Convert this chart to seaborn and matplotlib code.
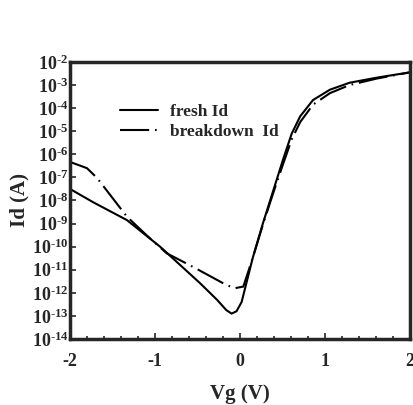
import numpy as np
import pandas as pd
import seaborn as sns
import matplotlib.pyplot as plt
from matplotlib.ticker import MultipleLocator

# Gate voltage (V) and log10(Id)
vg_fresh = [-2.0, -1.73, -1.33, -0.94, -0.47, -0.27, -0.16, -0.098, -0.04, 0.02,
            0.15, 0.27, 0.39, 0.51, 0.61, 0.71, 0.86, 1.06, 1.29, 1.61, 2.0]
logid_fresh = [-7.5, -8.07, -8.85, -10.0, -11.58, -12.3, -12.75, -12.9, -12.8, -12.4,
               -10.5, -9.0, -7.6, -6.2, -5.1, -4.35, -3.65, -3.2, -2.9, -2.68, -2.45]

vg_bd = [-2.0, -1.8, -1.68, -1.59, -1.33, -1.1, -0.86, -0.55, -0.16, -0.06, 0.04,
         0.15, 0.27, 0.39, 0.51, 0.61, 0.71, 0.86, 1.06, 1.29, 1.61, 2.0]
logid_bd = [-6.33, -6.6, -7.03, -7.46, -8.7, -9.5, -10.29, -10.88, -11.66, -11.8, -11.73,
            -10.5, -9.05, -7.7, -6.4, -5.35, -4.6, -3.85, -3.35, -3.0, -2.72, -2.45]

labels = ['fresh Id', 'breakdown  Id']
yexp = list(range(-14, -1))

df = pd.concat([
    pd.DataFrame({'Vg': vg_fresh, 'Id': 10.0 ** np.array(logid_fresh), 'curve': labels[0]}),
    pd.DataFrame({'Vg': vg_bd, 'Id': 10.0 ** np.array(logid_bd), 'curve': labels[1]}),
])

sns.set_theme(style='ticks')
plt.rcParams['font.family'] = ['Liberation Serif', 'DejaVu Serif']
plt.rcParams['font.weight'] = 'bold'
plt.rcParams['axes.unicode_minus'] = False
plt.rcParams['mathtext.fontset'] = 'custom'
plt.rcParams['mathtext.rm'] = 'Liberation Serif:bold'
plt.rcParams['mathtext.default'] = 'rm'

fig = plt.figure(figsize=(4.14, 4.05), dpi=100)
ax = fig.add_axes([0.169, 0.163, 0.821, 0.684])

sns.lineplot(data=df, x='Vg', y='Id', hue='curve', style='curve', sort=False,
             palette={labels[0]: 'black', labels[1]: 'black'},
             dashes={labels[0]: '', labels[1]: (14, 2.8, 0.8, 2.8)},
             linewidth=1.5, ax=ax)

ax.set_yscale('log')
ax.set_xlim(-2, 2)
ax.set_ylim(1e-14, 1e-2)
ax.set_yticks([10.0 ** k for k in yexp])
ax.set_yticklabels([f'10$^{{\\text{{{k}}}}}$' for k in yexp])
ax.yaxis.set_minor_locator(plt.NullLocator())
ax.set_xticks([-2, -1, 0, 1, 2])
ax.set_xticklabels(['-2', '-1', '0', '1', '2'])
ax.xaxis.set_minor_locator(MultipleLocator(0.2))
ax.tick_params(which='both', direction='in', top=False, right=False, width=1.2)
ax.tick_params(axis='x', labelsize=13, pad=10)
ax.tick_params(axis='y', labelsize=13, pad=1)
ax.tick_params(which='major', length=4)
ax.tick_params(which='minor', length=2)
for s in ax.spines.values():
    s.set_linewidth(2.5)
    s.set_visible(True)

ax.set_xlabel('Vg (V)', fontsize=15, fontweight='bold', labelpad=10)
ax.set_ylabel('Id (A)', fontsize=15, fontweight='bold', labelpad=2)

ax.legend(loc='upper left', bbox_to_anchor=(0.147, 0.85), frameon=False, borderpad=0,
          borderaxespad=0, fontsize=12.5, handlelength=2.2, handletextpad=0.7,
          labelspacing=0.25)

plt.savefig('out.png', dpi=100)
